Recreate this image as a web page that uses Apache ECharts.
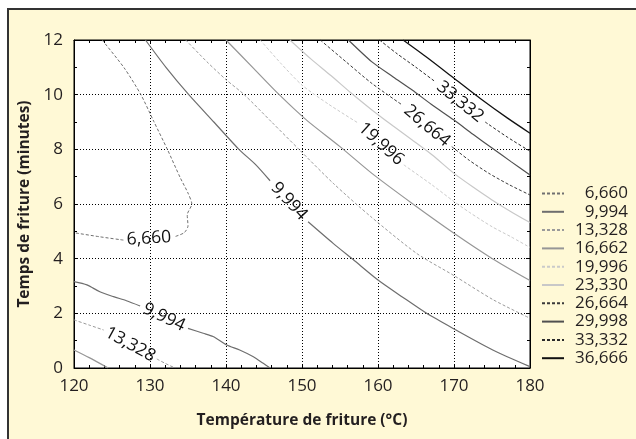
<!DOCTYPE html>
<html>
<head>
<meta charset="utf-8">
<script src="https://cdn.jsdelivr.net/npm/echarts@6/dist/echarts.min.js"></script>
<style>
  html, body { margin: 0; padding: 0; background: #fff; overflow: hidden; }
  #wrap { position: relative; width: 636px; height: 439px; }
  #frame { position: absolute; left: 7px; top: 8px; width: 700px; height: 500px;
           background: #FFF9D6; border-top: 2px solid #333; border-left: 2px solid #333; box-sizing: border-box; }
  #chart { position: absolute; left: 0; top: 0; width: 636px; height: 439px; }
</style>
</head>
<body>
<div id="wrap"><div id="frame"></div><div id="chart"></div></div>
<script>
// Axis ranges (frying temperature in °C, frying time in minutes)
const tempRange = [120, 180];
const timeRange = [0, 12];
const tempStep = 10;
const timeStep = 2;

// Contour levels, in legend order
const levels = ['6,660', '9,994', '13,328', '16,662', '19,996', '23,330', '26,664', '29,998', '33,332', '36,666'];

// Contour paths as [temperature, time]; a null marks where the level value is written on the line
const c6660 = [[123.7, 12], [126.6, 10.98], [128.8, 10], [130.5, 9.02], [132.3, 7.99], [134.0, 6.95], [135.0, 6.4],
  [135.5, 6.0], [134.9, 5.6], [135.0, 5.2], [134.5, 4.95], [133.2, 4.8], null, [126.5, 4.68], [123.4, 4.8], [120, 4.95]];
const c9994Upper = [[129.4, 12], [132.1, 11], [135.1, 10], [138.4, 9], [141.7, 8], [143.9, 7.44], [145.8, 6.85], null,
  [150.8, 5.35], [154.1, 4.56], [156.8, 3.95], [160, 3.22], [163.2, 2.6], [166.4, 2.0], [170, 1.43], [175.1, 0.66], [180, 0.05]];
const c9994Lower = [[120, 3.16], [121.7, 3.04], [123.4, 2.79], [125.2, 2.61], [126.9, 2.46], [128.7, 2.27], null,
  [135.0, 1.45], [137.0, 1.27], [138.3, 1.15], [140.1, 0.84], [141.8, 0.66], [143.6, 0.41], [144.9, 0.17], [145.8, 0]];
const c13328Upper = [[134.7, 12], [137.5, 11.2], [140, 10.55], [142.4, 10], [146, 9.0], [149.6, 8], [154.1, 6.76],
  [159, 5.55], [165.1, 4.19], [170, 3.38], [175.2, 2.49], [180, 1.82]];
const c13328Lower = [[120, 1.76], [122, 1.57], [123.9, 1.39], null, [130.9, 0.33], [132, 0.17], [133.3, 0]];
const c16662Upper = [[140, 12], [143.5, 11], [147, 10], [150.6, 9.07], [155, 8.1], [159.2, 7.12], [164.5, 6.02],
  [170, 4.93], [175, 4.01], [180, 3.2]];
const c16662Lower = [[120, 0.66], [122, 0.38], [124.5, 0]];
const c19996 = [[144.5, 12], [147.2, 11.15], [150, 10.35], [153.5, 9.65], [157.4, 8.96], null, [163.4, 7.43],
  [167.1, 6.7], [170, 6.09], [172, 5.7], [175, 5.17], [177.5, 4.8], [180, 4.41]];
const c23330 = [[148.4, 12], [151.2, 11.3], [153.8, 10.7], [156.5, 10.05], [159.2, 9.44], [162, 8.85], [164.5, 8.34],
  [167.1, 7.8], [170, 7.12], [172.5, 6.62], [175, 6.15], [177.5, 5.72], [180, 5.32]];
const c26664 = [[152.4, 12], [155.8, 11.2], [159.2, 10.41], [163.2, 9.62], null, [169.7, 8.1], [172, 7.6],
  [174.6, 7.12], [177.3, 6.7], [180, 6.33]];
const c29998 = [[156.1, 12], [159.2, 11.2], [162, 10.65], [164.5, 10.17], [167, 9.65], [170, 9.07], [172.5, 8.55],
  [175, 8.05], [177.5, 7.55], [180, 7.06]];
const c33332 = [[160.2, 12], [162.5, 11.5], [165, 11.0], [167.5, 10.48], null, [174.1, 9.0], [177, 8.45], [180, 7.93]];
const c36666 = [[163.3, 12], [166.5, 11.35], [170, 10.6], [173.5, 9.85], [177, 9.15], [180, 8.59]];

const curves = [
  ['6,660', c6660], ['9,994', c9994Upper], ['9,994', c9994Lower], ['13,328', c13328Upper], ['13,328', c13328Lower],
  ['16,662', c16662Upper], ['16,662', c16662Lower], ['19,996', c19996], ['23,330', c23330], ['26,664', c26664],
  ['29,998', c29998], ['33,332', c33332], ['36,666', c36666]
];

// Line look for each level
const styles = {
  '6,660':  { color: '#707070', type: [3, 2], width: 1 },
  '9,994':  { color: '#6e6e6e', type: 'solid', width: 1.2 },
  '13,328': { color: '#9a9a9a', type: [3, 2], width: 1 },
  '16,662': { color: '#969696', type: 'solid', width: 1.2 },
  '19,996': { color: '#cacaca', type: [3, 2], width: 1 },
  '23,330': { color: '#c8c8c8', type: 'solid', width: 1.2 },
  '26,664': { color: '#3a3a3a', type: [3, 2], width: 1 },
  '29,998': { color: '#505050', type: 'solid', width: 1.2 },
  '33,332': { color: '#2a2a2a', type: [3, 2], width: 1 },
  '36,666': { color: '#111111', type: 'solid', width: 1.3 }
};

const FONT = 'Open Sans';
const TEXT = '#231f20';

// Split each path at its nulls: pieces become line series, each break gets a value label
const lineSeries = [];
const labelGaps = [];
curves.forEach(([level, pts]) => {
  let seg = [];
  const flush = () => {
    if (seg.length) {
      const s = styles[level];
      lineSeries.push({
        type: 'line', name: level, data: seg, symbol: 'none', smooth: 0.25, silent: true,
        animation: false, z: 3,
        lineStyle: { color: s.color, type: s.type, width: s.width },
        itemStyle: { color: s.color }
      });
    }
    seg = [];
  };
  pts.forEach((p, i) => {
    if (p === null) {
      labelGaps.push({ level, a: pts[i - 1], b: pts[i + 1] });
      flush();
    } else {
      seg.push(p);
    }
  });
  flush();
});

// Level values written in the breaks, turned along the contour direction
const labelSeries = {
  type: 'custom', name: 'levelLabels', silent: true, animation: false, z: 5, clip: false,
  encode: { x: 0, y: 1 },
  data: labelGaps.map(g => [(g.a[0] + g.b[0]) / 2, (g.a[1] + g.b[1]) / 2]),
  renderItem: (params, api) => {
    const g = labelGaps[params.dataIndex];
    const pa = api.coord(g.a);
    const pb = api.coord(g.b);
    const c = api.coord([api.value(0), api.value(1)]);
    let ang = Math.atan2(-(pb[1] - pa[1]), pb[0] - pa[0]);
    if (ang > Math.PI / 2) ang -= Math.PI;
    if (ang < -Math.PI / 2) ang += Math.PI;
    return {
      type: 'text', x: c[0], y: c[1], rotation: ang,
      style: { text: g.level, fill: '#111', font: '17.5px "Open Sans"', align: 'center', verticalAlign: 'middle' }
    };
  }
};

const axisCommon = {
  axisLine: { show: true, onZero: false, lineStyle: { color: '#000', width: 1 } },
  axisTick: { show: true, inside: true, length: 4, lineStyle: { color: '#000' } },
  minorTick: { show: true, length: 3, lineStyle: { color: '#000' } }
};

const chart = echarts.init(document.getElementById('chart'), null, { renderer: 'canvas' });

chart.setOption({
  backgroundColor: 'transparent',
  animation: false,
  grid: { left: 74, top: 40, width: 456, height: 328, show: true, backgroundColor: '#fff', borderColor: '#000', borderWidth: 1 },
  legend: {
    data: levels, orient: 'vertical', left: 536, top: 180,
    itemWidth: 22, itemHeight: 14, itemGap: 1.3, selectedMode: false,
    itemStyle: { opacity: 0, borderWidth: 0 },
    formatter: name => '{v|' + name + '}',
    textStyle: {
      fontFamily: FONT, fontSize: 17, color: TEXT,
      rich: { v: { fontFamily: FONT, fontSize: 17, color: TEXT, width: 59, align: 'right' } }
    }
  },
  xAxis: [
    Object.assign({
      type: 'value', min: tempRange[0], max: tempRange[1], interval: tempStep, position: 'bottom',
      axisLabel: { fontFamily: FONT, fontSize: 17, color: TEXT, margin: 10 },
      splitLine: { show: true, lineStyle: { color: '#000', type: [1, 2], width: 1 } },
      name: 'Température de friture (°C)', nameLocation: 'middle', nameGap: 45,
      nameTextStyle: { fontFamily: FONT, fontWeight: 'bold', fontSize: 15.5, color: TEXT }
    }, axisCommon, { minorTick: Object.assign({}, axisCommon.minorTick, { splitNumber: 5 }) }),
    Object.assign({
      type: 'value', min: tempRange[0], max: tempRange[1], interval: tempStep, position: 'top',
      axisLabel: { show: false }, splitLine: { show: false }
    }, axisCommon, { minorTick: Object.assign({}, axisCommon.minorTick, { splitNumber: 5 }) })
  ],
  yAxis: [
    Object.assign({
      type: 'value', min: timeRange[0], max: timeRange[1], interval: timeStep, position: 'left',
      axisLabel: { fontFamily: FONT, fontSize: 17, color: TEXT, margin: 11 },
      splitLine: { show: true, lineStyle: { color: '#000', type: [1, 2], width: 1 } },
      name: 'Temps de friture (minutes)', nameLocation: 'middle', nameGap: 30,
      nameTextStyle: { fontFamily: FONT, fontWeight: 'bold', fontSize: 15.5, color: TEXT }
    }, axisCommon, { minorTick: Object.assign({}, axisCommon.minorTick, { splitNumber: 2 }) }),
    Object.assign({
      type: 'value', min: timeRange[0], max: timeRange[1], interval: timeStep, position: 'right',
      axisLabel: { show: false }, splitLine: { show: false }
    }, axisCommon, { minorTick: Object.assign({}, axisCommon.minorTick, { splitNumber: 2 }) })
  ],
  series: lineSeries.concat([labelSeries])
});
</script>
</body>
</html>
